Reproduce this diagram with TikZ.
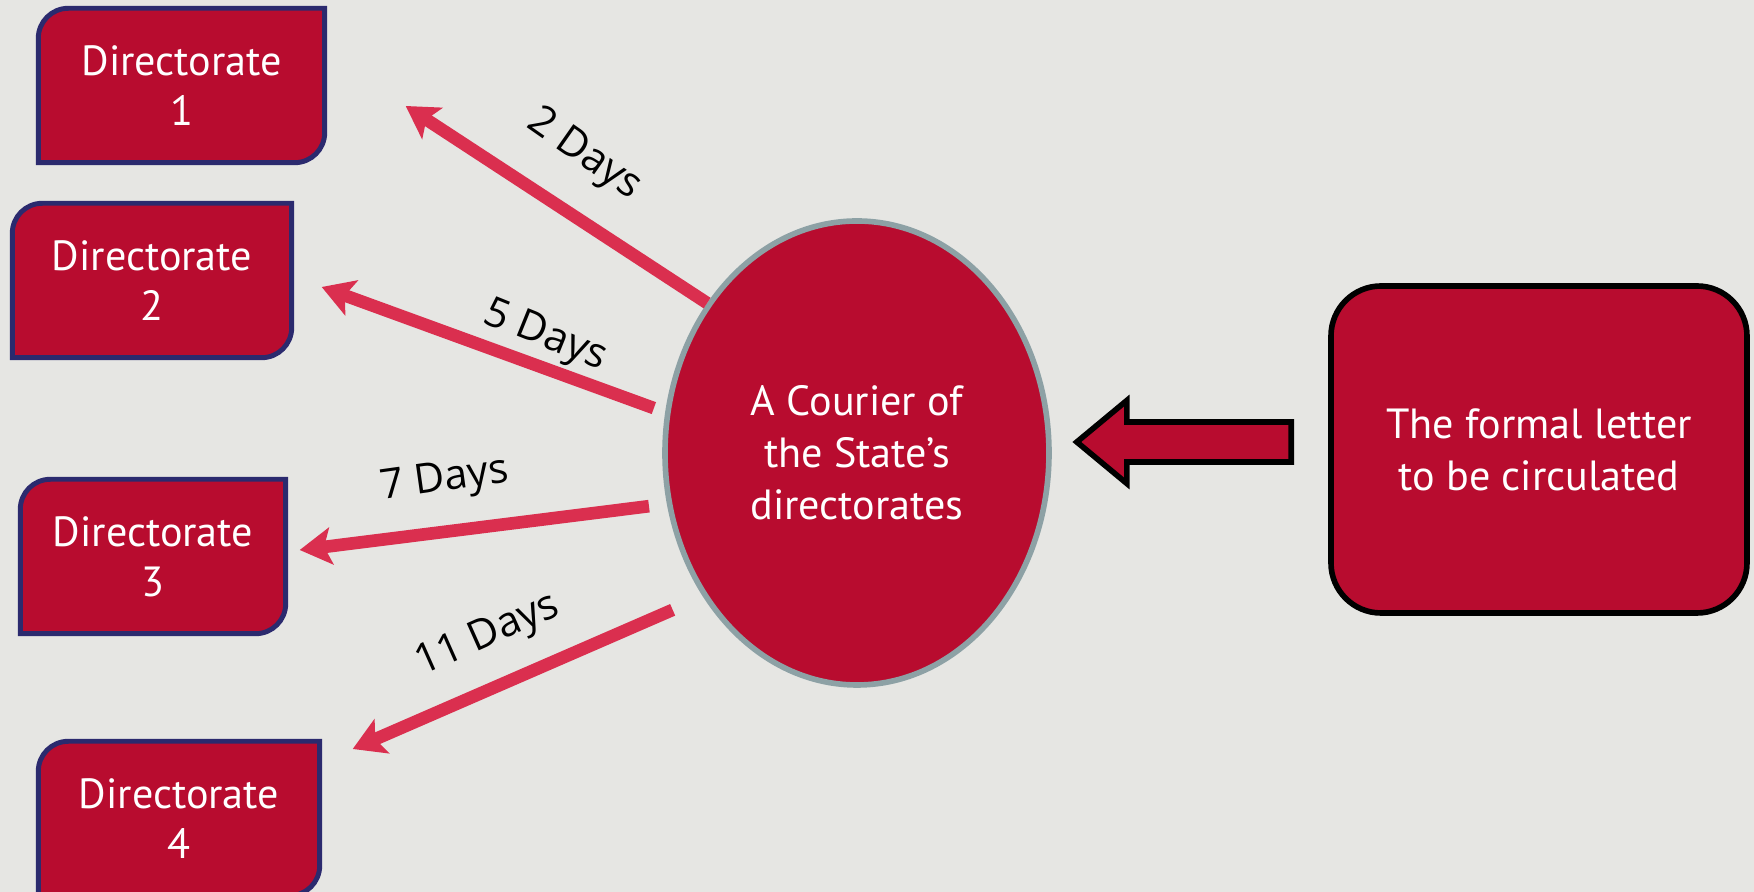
\documentclass[tikz,border=0pt]{standalone}
\usepackage{fontspec}
\setmainfont{PT Sans}
\newfontfamily\dayfont{Open Sans}
\usetikzlibrary{arrows.meta, calc, shapes.geometric, backgrounds}

\definecolor{crimson}{HTML}{B80C2F}
\definecolor{navy}{HTML}{2B2A6E}
\definecolor{rim}{HTML}{8DA1A5}
\definecolor{pinkred}{HTML}{DA2F4F}
\definecolor{paper}{HTML}{E6E6E3}

\begin{document}
\begin{tikzpicture}[
    dirbox/.style={minimum height=1.53cm, inner sep=0pt, align=center, text=white,
                   font=\fontsize{12}{14.2}\selectfont},
    dirframe/.style={fill=crimson, draw=navy, line width=1.4pt},
    ray/.style={-{Stealth[length=9pt, width=10.5pt, inset=2pt]}, pinkred, line width=3.6pt},
    days/.style={font=\dayfont\fontsize{11.8}{13}\selectfont, inner sep=1pt}]
  \useasboundingbox (0,0) rectangle (17.54,8.92);

  \node[dirbox, minimum width=2.85cm] (d1) at (1.815,8.065) {Directorate\\1};
  \node[dirbox, minimum width=2.78cm] (d2) at (1.52,6.115) {Directorate\\2};
  \node[dirbox, minimum width=2.64cm] (d3) at (1.53,3.355) {Directorate\\3};
  \node[dirbox, minimum width=2.80cm] (d4) at (1.79,0.735) {Directorate\\4};

  \node[ellipse, minimum width=3.84cm, minimum height=4.64cm, inner sep=0pt, fill=crimson,
        draw=rim, line width=1.6pt, align=center, text=white,
        font=\fontsize{12}{14.8}\selectfont] (courier) at (8.57,4.39)
        {A Courier of\\the State’s\\directorates};
  \node[rectangle, rounded corners=0.5cm, minimum width=4.16cm, minimum height=3.27cm,
        fill=crimson, draw=black, line width=1.6pt, align=center, text=white,
        font=\fontsize{12}{14.8}\selectfont] (letter) at (15.39,4.425)
        {The formal letter\\to be circulated};

  \begin{scope}[on background layer]
    \fill[paper] (0,0) rectangle (17.54,8.92);
    \foreach \n in {d1,d2,d3,d4}
      \draw[dirframe] (\n.north east) -- ([xshift=3mm]\n.north west)
        arc[start angle=90, end angle=180, radius=3mm] -- (\n.south west)
        -- ([xshift=-3mm]\n.south east) arc[start angle=-90, end angle=0, radius=3mm] -- cycle;
  \end{scope}

  % block arrow from the letter to the courier
  \coordinate (tail) at ($(letter.west)+(-0.37,0.075)$);
  \coordinate (tip) at ($(courier.east)+(0.25,0.11)$);
  \draw[fill=crimson, line width=1.6pt, line join=miter] ($(tail)+(0,0.2)$) -- ($(tip)+(0.5,0.2)$)
    -- ($(tip)+(0.5,0.415)$) -- (tip) -- ($(tip)+(0.5,-0.415)$) -- ($(tip)+(0.5,-0.2)$)
    -- ($(tail)+(0,-0.2)$) -- cycle;

  % the courier's runs to each directorate
  \coordinate (t1) at ($(d1.east)+(0.81,-0.205)$);
  \coordinate (t2) at ($(d2.east)+(0.30,-0.065)$);
  \coordinate (t3) at ($(d3.east)+(0.14,0.065)$);
  \coordinate (t4) at ($(d4.east)+(0.33,0.695)$);
  \draw[ray] (courier.135) -- (t1);
  \draw[ray, shorten <=0.12cm] (courier.168) -- (t2);
  \draw[ray, shorten <=0.18cm] (courier.195) -- (t3);
  \draw[ray, shorten <=0.33cm] (courier.223) -- (t4);

  \node[days, rotate=-35] (l1) at (5.84,7.37) {2 Days};
  \node[days, rotate=-22] (l2) at (5.45,5.55) {5 Days};
  \node[days, rotate=8] (l3) at (4.45,4.11) {7 Days};
  \node[days, rotate=24] (l4) at (4.88,2.56) {11 Days};
\end{tikzpicture}
\end{document}
